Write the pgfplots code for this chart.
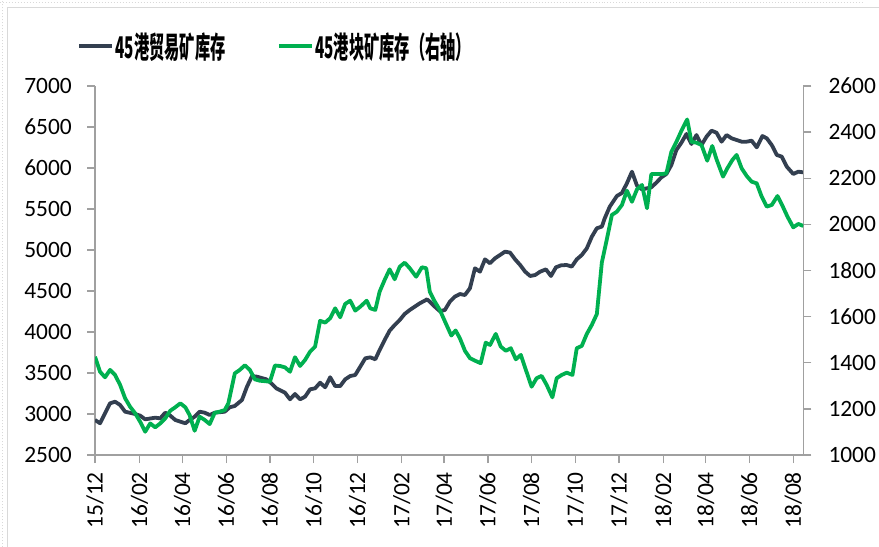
\documentclass[border=0pt]{standalone}
\usepackage{pgfplots}
\usepackage{pgfplotstable}
\usepackage{graphicx}
\pgfplotsset{compat=1.18}
\usepackage{fontspec}
\setmainfont{Carlito}
\newfontfamily\cjk{Noto Sans CJK SC}
\definecolor{darkser}{RGB}{51,63,80}
\definecolor{greenser}{RGB}{0,176,80}
\definecolor{axgray}{RGB}{160,160,160}
\definecolor{bordgray}{RGB}{217,217,217}

% day 0 = 2015-12-01
\pgfplotstableread{
d v
0 2927
7 2887
21 3130
28 3150
35 3110
42 3028
56 3000
63 2980
70 2935
84 2955
91 2947
98 3016
105 2980
112 2927
126 2887
132 2927
139 2967
146 3028
153 3016
160 2988
167 3016
181 3028
188 3082
195 3098
205 3171
212 3333
219 3463
226 3455
239 3423
246 3374
253 3313
265 3260
272 3179
279 3244
286 3179
293 3211
300 3301
307 3313
314 3382
321 3326
328 3448
335 3341
342 3341
349 3423
356 3463
363 3476
370 3577
377 3679
384 3691
391 3667
397 3780
404 3902
411 4016
418 4085
425 4146
432 4220
439 4268
446 4309
453 4350
460 4382
463 4399
467 4370
474 4309
481 4254
488 4268
495 4370
502 4431
509 4463
516 4451
523 4533
530 4777
537 4736
544 4886
551 4838
558 4899
565 4939
572 4980
579 4968
586 4886
593 4817
600 4736
607 4683
614 4695
621 4736
629 4764
636 4683
643 4789
650 4813
658 4817
665 4797
672 4886
679 4939
686 5020
693 5162
700 5265
707 5285
711 5386
718 5528
728 5659
735 5695
742 5815
749 5955
756 5785
763 5740
770 5752
776 5765
783 5821
790 5886
797 5927
804 6037
811 6220
818 6309
825 6415
832 6293
839 6402
846 6280
853 6382
860 6455
867 6430
874 6321
881 6402
888 6362
895 6341
902 6321
909 6321
916 6333
923 6252
931 6390
937 6362
944 6280
951 6159
958 6138
965 6016
974 5927
981 5955
988 5947
}\darkdata

\pgfplotstableread{
d v
0 1426
7 1361
14 1337
21 1369
28 1347
35 1304
42 1246
49 1209
56 1181
63 1144
70 1101
77 1137
84 1120
91 1137
98 1159
105 1192
112 1207
119 1224
126 1207
132 1173
139 1105
146 1166
153 1152
160 1134
167 1183
174 1188
181 1195
186 1224
195 1354
202 1369
209 1389
216 1369
223 1328
230 1322
244 1318
251 1388
258 1386
265 1380
272 1361
279 1424
286 1386
293 1412
300 1448
307 1470
314 1582
321 1574
328 1593
335 1636
342 1597
349 1655
356 1669
363 1626
370 1643
379 1669
384 1636
391 1629
397 1708
404 1759
411 1805
418 1762
425 1816
432 1834
439 1810
448 1773
456 1814
462 1810
467 1708
474 1665
481 1629
488 1580
497 1518
503 1540
509 1506
516 1452
523 1420
530 1409
538 1398
545 1487
551 1477
559 1525
566 1470
573 1452
580 1463
587 1415
594 1434
601 1369
609 1296
616 1333
623 1343
630 1304
638 1250
644 1333
651 1347
658 1357
666 1347
672 1463
679 1473
686 1525
693 1564
700 1611
707 1835
714 1936
721 2041
728 2055
735 2084
742 2146
749 2098
756 2152
763 2171
770 2070
776 2218
783 2218
790 2218
797 2221
804 2315
811 2358
818 2406
826 2455
832 2358
839 2354
846 2344
854 2276
861 2340
867 2282
876 2207
882 2243
889 2279
895 2301
902 2243
909 2210
916 2185
923 2178
930 2120
937 2077
944 2084
952 2123
959 2080
966 2033
974 1987
981 2002
988 1993
}\greendata

\pgfplotsset{
  common/.style={
    width=708.3bp, height=369bp, scale only axis,
    at={(95bp,92bp)}, anchor=south west,
    xmin=0, xmax=988,
    axis line style={draw=axgray, line width=1.3bp},
    tick style={draw=axgray, line width=1.3bp},
    tick align=outside,
    major tick length=8bp,
    /pgf/number format/assume math mode=true,
    /pgf/number format/set thousands separator={},
    tick label style={font=\fontsize{23.5}{24}\selectfont, text=black},
  }
}

\begin{document}
\begin{tikzpicture}
\useasboundingbox (0,0) rectangle (879bp,547bp);
\fill[white] (0,0) rectangle (879bp,547bp);
% worksheet gridlines & chart border
\draw[bordgray, line width=1bp, dotted] (0,544bp) -- (862bp,544bp);
\draw[bordgray, line width=1bp, dotted] (2.5bp,0) -- (2.5bp,547bp);
\draw[bordgray, line width=1.5bp] (7.3bp,0) -- (7.3bp,539.7bp) -- (879bp,539.7bp);

\begin{axis}[common,
  ymin=2500, ymax=7000, ytick={2500,3000,...,7000},
  axis x line*=bottom, axis y line*=left,
  xtick={0,62,122,183,244,305,366,428,487,548,609,670,731,793,852,913,974},
  xticklabels={15/12,16/02,16/04,16/06,16/08,16/10,16/12,17/02,17/04,17/06,17/08,17/10,17/12,18/02,18/04,18/06,18/08},
  x tick label style={rotate=90, anchor=east, inner sep=0pt},
  xticklabel shift=9bp,
  y tick label style={anchor=east, inner sep=0pt},
  yticklabel shift=15bp,
]
\addplot[darkser, line width=3.8bp, line join=round, no marks] table[x=d,y=v] {\darkdata};
\end{axis}

\begin{axis}[common,
  ymin=1000, ymax=2600, ytick={1000,1200,...,2600},
  axis y line*=right, axis x line=none,
  xtick=\empty,
  y tick label style={anchor=west, inner sep=0pt},
  yticklabel shift=17bp,
  legend columns=2,
  legend style={draw=none, fill=none, at={(-0.0254,1.108)}, anchor=west,
    inner sep=0pt, outer sep=0pt, nodes={inner sep=1.5bp},
    /tikz/every even column/.append style={column sep=50bp}},
  legend image code/.code={\draw[#1] (0bp,0bp) -- (33bp,0bp);},
  legend cell align=left,
]
\addlegendimage{darkser, line width=4bp}
\addlegendentry{\cjk\bfseries\fontsize{30}{30}\selectfont\scalebox{0.51}[1]{45港贸易矿库存}}
\addplot[greenser, line width=3.8bp, line join=round, no marks] table[x=d,y=v] {\greendata};
\addlegendentry{\cjk\bfseries\fontsize{30}{30}\selectfont\scalebox{0.51}[1]{45港块矿库存（右轴）}}
\end{axis}
\end{tikzpicture}
\end{document}
